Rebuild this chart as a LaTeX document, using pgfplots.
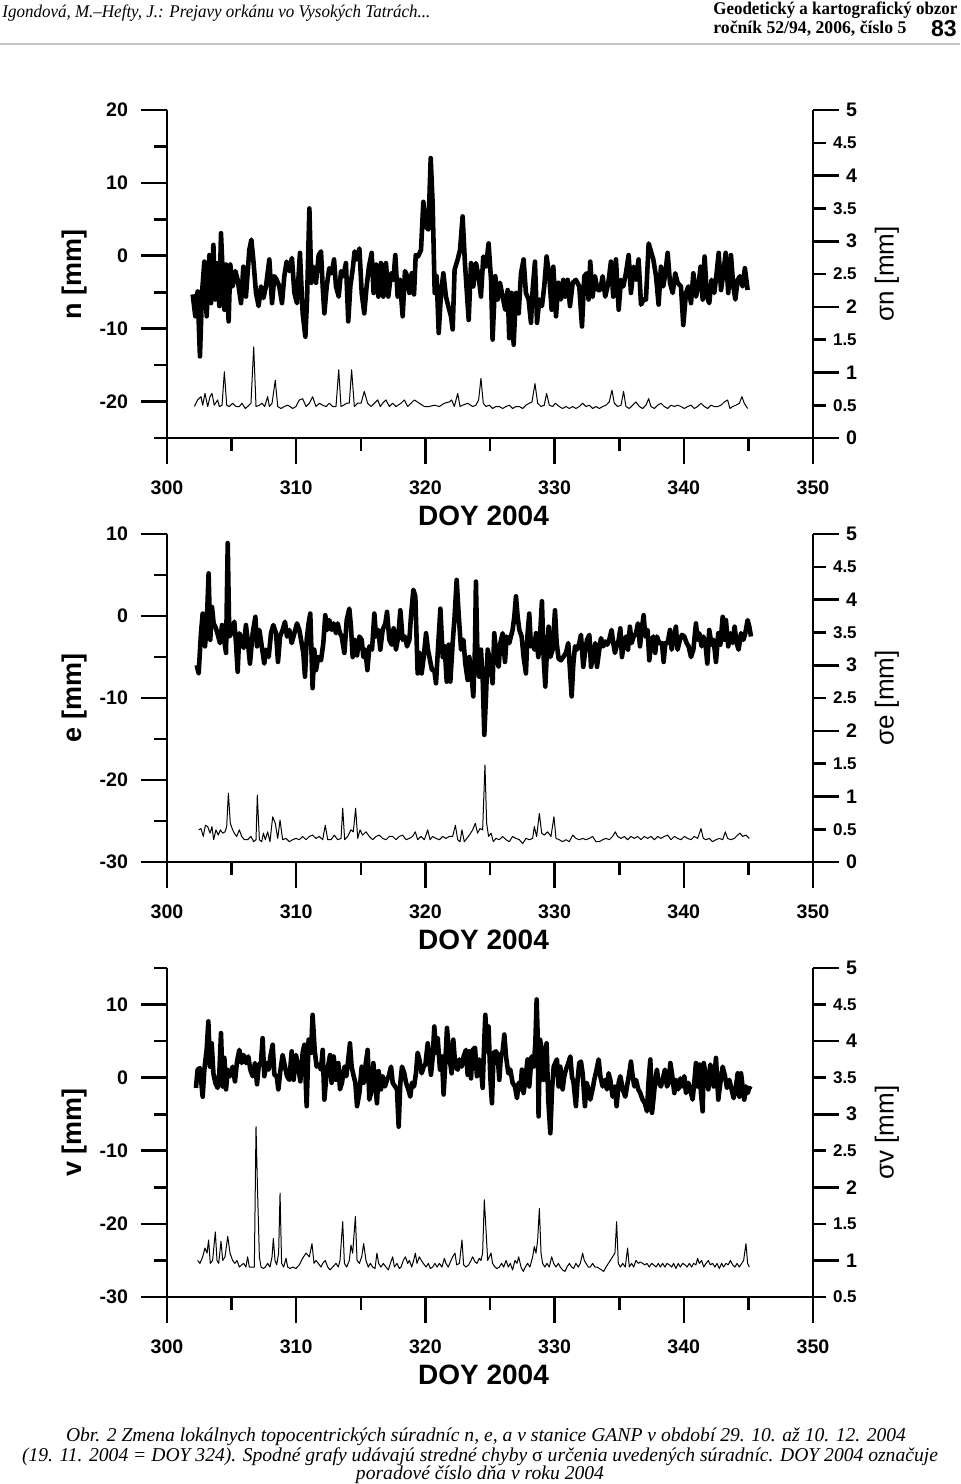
\documentclass[border=0pt]{standalone}
\usepackage{fontspec}
\usepackage{graphicx}
\setmainfont{Liberation Serif}
\newfontfamily\arial{Liberation Sans}
\usepackage{pgfplots}
\pgfplotsset{compat=1.18}
\newcommand\tickfont{\arial\bfseries\fontsize{9.8}{9.8}\selectfont}
\newcommand\halffont{\arial\bfseries\fontsize{8.5}{8.5}\selectfont}
\pgfplotsset{
  base/.style={
    scale only axis, width=323pt, height=164pt, xmin=300, xmax=350,
    clip=false,
    axis line style={line width=1.3pt,-},
    tick style={line width=1.3pt, black},
    major tick length=13pt, minor tick length=6.5pt,
    tick align=outside,
    /pgf/number format/assume math mode=true,
    ticklabel style={font=\tickfont},
  },
  leftax/.style={
    base, axis x line*=bottom, axis y line*=left,
    xtick pos=lower, ytick pos=lower, xticklabel pos=lower, yticklabel pos=lower,
    xtick={300,310,320,330,340,350}, minor xtick={305,315,325,335,345},
    xticklabel style={yshift=-5pt},
    yticklabel style={xshift=-3pt},
    xlabel={DOY 2004},
    every axis x label/.style={at={(axis description cs:0.49,0)}, yshift=-39pt, anchor=center, font=\arial\bfseries\fontsize{14}{14}\selectfont},
    every axis y label/.style={at={(axis description cs:0,0.5)}, xshift=-46pt, rotate=90, anchor=center, font=\arial\bfseries\fontsize{13.5}{13.5}\selectfont},
  },
  rightax/.style={
    base, axis x line=none, axis y line*=right,
    ytick pos=upper, yticklabel pos=upper,
    extra y tick style={major tick length=6.5pt, yticklabel style={font=\halffont}},
    every axis y label/.style={at={(axis description cs:1,0.5)}, xshift=37pt, rotate=90, anchor=center, font=\arial\fontsize{13}{13}\selectfont},
  },
  mainline/.style={black, line width=2.3pt, line join=round},
  sigline/.style={black, line width=0.5pt, line join=round},
}
\begin{document}
\begin{tikzpicture}
\path[use as bounding box] (0,0) rectangle (480pt,-742pt);
% header
\node[anchor=base west, inner sep=0] at (1pt,-8.5pt) {\resizebox{214pt}{6.3pt}{\itshape Igondová, M.–Hefty, J.: Prejavy orkánu vo Vysokých Tatrách...}};
\node[anchor=base west, inner sep=0] at (356.5pt,-7pt) {\resizebox{122pt}{6.3pt}{\bfseries Geodetický a kartografický obzor}};
\node[anchor=base west, inner sep=0] at (356.5pt,-16.5pt) {\resizebox{96.5pt}{6.3pt}{\bfseries ročník 52/94, 2006, číslo 5}};
\node[anchor=base east, inner sep=0] at (478.5pt,-18pt) {\arial\bfseries\fontsize{11.5}{11.5}\selectfont 83};
\draw[gray!45, line width=1pt] (0pt,-22pt) -- (480pt,-22pt);

% ================= panel 1 =================
\begin{axis}[leftax, at={(83.5pt,-219pt)}, anchor=south west,
  ymin=-25, ymax=20, ytick={-20,-10,0,10,20}, minor ytick={-25,-15,-5,5,15},
  ylabel={n [mm]}]
\addplot[mainline] table {
301.99 -5.3
302.19 -8.3
302.37 -4.9
302.55 -13.8
302.71 -5.1
302.89 -0.8
303.07 -8.3
303.28 0.1
303.41 -6.5
303.59 1.5
303.74 -6.0
303.92 -1.0
304.05 -6.9
304.18 3.1
304.31 -2.4
304.44 -7.4
304.57 -1.2
304.77 -9.0
304.90 -1.2
305.08 -4.2
305.29 -2.1
305.47 -3.3
305.73 -6.5
305.91 -1.5
306.11 -5.6
306.37 0.8
306.53 2.2
306.68 -0.5
306.89 -5.1
307.09 -6.9
307.28 -4.2
307.46 -5.8
307.66 -4.2
307.92 -0.5
308.13 -6.5
308.31 -2.8
308.49 -3.3
308.69 -4.2
308.90 -6.5
309.08 -2.8
309.26 -0.8
309.47 -2.1
309.67 -0.3
309.86 -5.1
310.06 -6.5
310.29 0.4
310.50 -7.9
310.71 -11.1
310.84 -6.0
311.02 6.5
311.17 -3.7
311.33 -1.5
311.53 -3.7
311.74 0.1
311.92 0.6
312.05 -4.2
312.18 -7.9
312.36 -4.2
312.56 -1.7
312.74 -2.4
312.93 -0.5
313.08 -4.2
313.29 -5.6
313.47 -2.1
313.65 -2.8
313.85 -1.0
314.03 -9.0
314.19 -4.2
314.37 -1.9
314.52 0.6
314.68 -0.5
314.89 1.0
315.07 -5.1
315.27 -7.9
315.45 -4.2
315.63 -1.5
315.84 0.4
315.99 -5.1
316.18 -1.2
316.36 -5.6
316.56 -1.0
316.74 -5.6
316.95 -1.0
317.13 -5.6
317.34 -2.4
317.52 -3.3
317.67 0.1
317.85 -5.6
318.03 -3.3
318.24 -8.3
318.42 -2.1
318.60 -2.8
318.76 -5.1
318.94 -2.4
319.12 -5.3
319.25 0.1
319.43 -0.1
319.66 0.8
319.84 7.4
320.05 4.0
320.23 3.6
320.41 13.4
320.56 7.2
320.72 -5.1
320.87 -2.8
321.03 -10.6
321.21 -5.1
321.39 -2.4
321.59 -5.6
321.77 -6.9
321.98 -8.3
322.11 -10.1
322.26 -1.9
322.50 -0.5
322.68 0.8
322.88 5.4
323.06 -1.0
323.35 -8.8
323.53 -1.0
323.71 -4.2
323.91 -1.0
324.12 -2.8
324.30 -5.6
324.48 -0.1
324.69 -1.5
324.89 1.7
325.08 -3.3
325.20 -11.5
325.41 -2.8
325.59 -6.0
325.77 -3.7
325.98 -5.6
326.18 -7.4
326.37 -4.7
326.49 -11.3
326.67 -5.1
326.83 -12.2
327.01 -5.1
327.22 -7.9
327.40 -2.4
327.60 -0.5
327.78 -5.1
327.99 -6.0
328.17 -9.2
328.30 -4.7
328.48 -0.8
328.64 -9.2
328.82 -6.0
329.02 -6.9
329.20 -4.2
329.38 -0.1
329.59 -2.8
329.77 -7.4
329.90 -1.5
330.11 -8.3
330.29 -3.7
330.49 -6.0
330.67 -3.3
330.83 -5.6
331.01 -3.3
331.19 -6.9
331.40 -3.7
331.65 -3.3
331.91 -4.2
332.12 -9.7
332.30 -2.8
332.48 -2.4
332.63 -6.0
332.76 -0.8
332.94 -5.6
333.12 -2.8
333.33 -4.7
333.54 -4.7
333.72 -2.8
333.92 -5.6
334.16 -3.7
334.36 -0.8
334.54 -5.6
334.75 -0.5
334.96 -7.4
335.14 -3.3
335.32 -4.2
335.52 -2.4
335.73 0.1
335.91 -5.1
336.12 -1.5
336.30 -3.3
336.50 -0.5
336.69 -6.7
336.89 -6.0
337.07 -6.0
337.28 1.7
337.46 0.6
337.64 -0.5
337.85 -2.8
338.05 -6.7
338.23 -1.5
338.41 -4.2
338.57 -2.4
338.75 0.4
338.93 -3.7
339.14 -5.1
339.34 -2.4
339.52 -3.7
339.78 -4.2
339.96 -9.5
340.17 -5.1
340.35 -4.2
340.56 -6.5
340.74 -2.4
340.94 -5.6
341.12 -4.2
341.30 -1.5
341.46 -6.0
341.61 -0.1
341.79 -5.6
341.97 -6.5
342.15 -3.3
342.36 -5.1
342.54 -2.4
342.70 0.4
342.88 -4.7
343.06 -2.4
343.24 0.4
343.44 -5.1
343.65 0.1
343.83 -4.2
343.99 -6.0
344.17 -3.3
344.35 -2.8
344.55 -4.2
344.73 -1.7
344.94 -4.7
};
\end{axis}
\begin{axis}[rightax, at={(83.5pt,-219pt)}, anchor=south west,
  ymin=0, ymax=5, ytick={0,1,2,3,4,5}, extra y ticks={0.5,1.5,2.5,3.5,4.5},
  ylabel={σn [mm]}]
\addplot[sigline] table {
302.12 0.48
302.37 0.58
302.63 0.63
302.76 0.50
302.94 0.68
303.15 0.48
303.33 0.63
303.48 0.68
303.66 0.50
303.92 0.58
304.05 0.48
304.26 0.50
304.44 1.01
304.62 0.50
304.82 0.48
305.08 0.53
305.34 0.48
305.60 0.48
305.80 0.53
306.06 0.45
306.24 0.48
306.50 0.53
306.71 1.39
306.89 0.48
307.15 0.50
307.35 0.53
307.56 0.48
307.79 0.63
307.92 0.48
308.13 0.53
308.38 0.88
308.57 0.48
308.82 0.45
309.08 0.48
309.34 0.50
309.52 0.48
309.73 0.45
309.98 0.48
310.24 0.58
310.50 0.60
310.76 0.48
311.02 0.53
311.27 0.63
311.53 0.48
311.79 0.53
312.05 0.50
312.31 0.48
312.56 0.53
312.82 0.48
313.08 0.48
313.29 1.04
313.47 0.48
313.67 0.50
313.91 0.53
314.11 0.53
314.29 1.04
314.50 0.48
314.76 0.53
315.02 0.53
315.27 0.71
315.53 0.53
315.79 0.48
316.05 0.53
316.31 0.58
316.51 0.48
316.69 0.53
316.95 0.58
317.21 0.48
317.47 0.53
317.72 0.48
318.11 0.53
318.37 0.58
318.63 0.48
318.89 0.53
319.14 0.58
319.53 0.53
319.92 0.48
320.30 0.48
320.69 0.50
321.08 0.48
321.47 0.53
321.85 0.55
322.03 0.58
322.24 0.48
322.50 0.68
322.68 0.48
322.88 0.50
323.27 0.53
323.66 0.48
323.91 0.50
324.12 0.58
324.30 0.91
324.48 0.53
324.69 0.48
324.95 0.50
325.20 0.45
325.46 0.48
325.72 0.48
325.98 0.45
326.24 0.48
326.49 0.50
326.75 0.45
327.01 0.48
327.27 0.48
327.53 0.45
327.78 0.50
328.04 0.53
328.25 0.55
328.48 0.83
328.69 0.53
328.95 0.48
329.20 0.50
329.38 0.68
329.59 0.50
329.85 0.48
330.05 0.53
330.36 0.48
330.62 0.45
330.88 0.48
331.14 0.45
331.40 0.48
331.65 0.45
331.91 0.48
332.17 0.53
332.43 0.48
332.69 0.50
332.94 0.45
333.20 0.48
333.46 0.45
333.72 0.48
333.98 0.50
334.23 0.55
334.44 0.73
334.62 0.53
334.88 0.48
335.14 0.50
335.34 0.71
335.52 0.48
335.78 0.45
336.04 0.50
336.30 0.55
336.56 0.48
336.81 0.45
337.07 0.50
337.28 0.60
337.46 0.48
337.72 0.45
337.98 0.50
338.23 0.53
338.49 0.48
338.75 0.45
339.01 0.50
339.27 0.48
339.52 0.50
339.78 0.48
340.04 0.45
340.30 0.48
340.56 0.50
340.81 0.45
341.07 0.48
341.33 0.53
341.59 0.48
341.85 0.45
342.10 0.50
342.36 0.48
342.62 0.48
342.88 0.50
343.14 0.55
343.39 0.58
343.57 0.45
343.78 0.48
344.04 0.50
344.30 0.53
344.50 0.63
344.68 0.53
344.94 0.45
};
\end{axis}

% ================= panel 2 =================
\begin{axis}[leftax, at={(83.5pt,-431pt)}, anchor=south west,
  ymin=-30, ymax=10, ytick={-30,-20,-10,0,10}, minor ytick={-25,-15,-5,5},
  ylabel={e [mm]}]
\addplot[mainline] table {
302.30 -6.0
302.45 -7.0
302.63 -2.1
302.76 0.3
302.94 -3.7
303.07 -1.3
303.22 5.2
303.35 -2.9
303.48 1.1
303.61 -0.9
303.79 -1.5
303.97 -2.5
304.10 -3.3
304.26 -1.1
304.39 -2.5
304.57 -4.5
304.70 8.9
304.82 -2.5
305.00 -2.1
305.21 -0.7
305.34 -3.3
305.47 -6.8
305.60 -2.1
305.78 -2.9
305.93 -3.9
306.11 -1.1
306.27 -3.3
306.42 -5.8
306.63 -2.1
306.84 -0.1
306.97 -3.7
307.15 -1.7
307.30 -3.3
307.53 -5.8
307.66 -4.1
307.87 -5.0
308.05 -2.1
308.23 -1.1
308.44 -2.1
308.59 -5.6
308.75 -2.5
308.95 -1.7
309.13 -0.7
309.29 -2.5
309.47 -1.7
309.65 -3.3
309.86 -2.1
310.06 -0.9
310.24 -1.7
310.42 -3.3
310.55 -4.5
310.68 -7.4
310.81 -2.9
310.96 -0.9
311.09 0.3
311.27 -8.8
311.40 -4.1
311.53 -6.6
311.71 -5.0
311.92 -5.4
312.10 -3.3
312.25 0.1
312.41 -1.7
312.56 -0.5
312.74 -1.7
312.90 -0.9
313.08 -2.1
313.21 -0.9
313.39 -2.1
313.52 -2.5
313.73 -4.5
313.91 -0.5
314.11 0.9
314.24 -1.3
314.37 -5.0
314.55 -2.9
314.71 -4.8
314.89 -2.5
315.07 -2.9
315.20 -5.0
315.35 -4.1
315.51 -6.6
315.66 -3.7
315.87 -4.1
316.05 0.3
316.18 -2.5
316.36 -1.7
316.51 -4.1
316.69 -1.7
316.90 -0.9
317.03 0.5
317.21 -2.9
317.39 -3.5
317.54 -1.5
317.72 -4.1
317.90 -2.5
318.06 0.7
318.24 -2.9
318.42 -2.5
318.58 -3.7
318.76 -2.9
318.89 0.1
319.07 3.2
319.22 2.4
319.40 -7.0
319.53 -4.5
319.71 -7.0
319.87 -5.0
320.05 -2.1
320.20 -4.1
320.36 -5.4
320.51 -6.6
320.69 -6.6
320.82 -8.2
321.00 -3.3
321.16 0.9
321.34 -5.0
321.49 -3.7
321.65 -8.0
321.80 -3.5
321.93 -8.0
322.11 -3.3
322.26 -0.1
322.42 4.4
322.57 0.3
322.76 -4.1
322.94 -2.9
323.09 -5.8
323.27 -7.8
323.40 -5.0
323.53 -6.6
323.71 -9.8
323.84 -3.7
323.91 4.2
324.04 -5.8
324.17 -7.4
324.30 -4.1
324.43 -7.4
324.56 -14.5
324.69 -9.8
324.82 -4.1
324.95 -5.0
325.08 -6.6
325.20 -8.2
325.33 -2.1
325.51 -5.0
325.67 -6.2
325.80 -3.3
325.98 -2.1
326.16 -5.6
326.29 -2.5
326.49 -3.3
326.62 -2.5
326.75 -1.7
326.88 -0.1
327.01 2.4
327.14 -0.1
327.27 -1.7
327.45 -2.5
327.60 -5.0
327.78 -7.0
327.91 -2.1
328.04 0.3
328.17 -3.7
328.30 -2.9
328.43 -4.1
328.56 -2.1
328.74 -5.0
328.87 -2.5
329.02 1.8
329.15 -5.0
329.28 -8.6
329.41 -4.1
329.54 -1.3
329.67 -5.0
329.85 -4.1
330.03 0.7
330.16 -3.3
330.31 -5.2
330.49 -5.4
330.67 -5.0
330.88 -4.5
331.06 -3.3
331.19 -6.6
331.32 -9.8
331.45 -5.8
331.58 -3.7
331.73 -4.1
331.91 -3.3
332.04 -2.3
332.22 -6.2
332.38 -4.1
332.51 -2.9
332.69 -2.3
332.82 -6.2
333.00 -4.5
333.15 -3.3
333.28 -6.2
333.46 -4.1
333.59 -2.7
333.77 -3.7
333.92 -3.1
334.08 -3.5
334.23 -2.9
334.41 -1.7
334.54 -3.3
334.67 -4.5
334.83 -3.5
334.96 -2.9
335.09 -1.5
335.21 -5.0
335.37 -3.3
335.52 -2.5
335.68 -4.1
335.83 -1.3
335.96 -3.3
336.12 -2.5
336.30 -2.1
336.45 -0.9
336.61 -3.7
336.74 -1.7
336.89 0.1
337.02 -2.5
337.20 -1.7
337.33 -5.4
337.48 -3.3
337.64 -2.5
337.79 -4.5
337.92 -2.5
338.10 -3.3
338.31 -3.3
338.44 -5.6
338.57 -3.3
338.75 -3.3
338.93 -1.7
339.06 -4.1
339.21 -2.9
339.39 -1.3
339.52 -4.1
339.70 -2.9
339.86 -2.3
340.04 -2.5
340.22 -3.3
340.37 -3.7
340.56 -5.0
340.74 -4.1
340.94 -0.9
341.07 -2.9
341.20 -2.1
341.38 -3.7
341.51 -2.5
341.66 -3.1
341.82 -5.8
341.97 -1.7
342.15 -3.5
342.31 -2.9
342.49 -5.6
342.67 -2.1
342.83 -3.5
343.01 -0.1
343.14 -2.9
343.26 -0.5
343.44 -3.7
343.60 -2.1
343.78 -3.3
343.93 -1.3
344.09 -3.3
344.24 -4.1
344.43 -2.1
344.61 -2.9
344.76 -2.1
344.94 -0.5
345.07 -1.3
345.20 -2.5
};
\end{axis}
\begin{axis}[rightax, at={(83.5pt,-431pt)}, anchor=south west,
  ymin=0, ymax=5, ytick={0,1,2,3,4,5}, extra y ticks={0.5,1.5,2.5,3.5,4.5},
  ylabel={σe [mm]}]
\addplot[sigline] table {
302.45 0.49
302.63 0.51
302.81 0.39
302.97 0.56
303.15 0.54
303.33 0.44
303.48 0.54
303.61 0.34
303.79 0.49
303.97 0.41
304.13 0.49
304.31 0.44
304.49 0.46
304.62 0.54
304.75 1.05
304.90 0.59
305.08 0.49
305.21 0.44
305.39 0.39
305.60 0.49
305.78 0.39
305.99 0.34
306.24 0.34
306.50 0.39
306.71 0.31
306.89 0.34
306.99 1.02
307.15 0.34
307.33 0.31
307.46 0.44
307.61 0.34
307.79 0.46
307.97 0.31
308.18 0.69
308.38 0.59
308.57 0.36
308.75 0.64
308.95 0.34
309.21 0.36
309.47 0.31
309.73 0.34
309.98 0.36
310.24 0.34
310.50 0.39
310.76 0.34
311.02 0.39
311.27 0.41
311.53 0.36
311.79 0.39
312.05 0.34
312.25 0.56
312.44 0.34
312.69 0.34
312.95 0.41
313.21 0.34
313.47 0.36
313.60 0.82
313.75 0.34
313.98 0.39
314.24 0.49
314.42 0.46
314.60 0.82
314.76 0.36
314.94 0.49
315.14 0.41
315.40 0.46
315.66 0.39
315.92 0.34
316.18 0.39
316.43 0.41
316.69 0.36
316.95 0.34
317.21 0.39
317.47 0.39
317.72 0.34
317.98 0.39
318.24 0.41
318.50 0.34
318.76 0.36
319.01 0.39
319.22 0.46
319.40 0.34
319.66 0.39
319.92 0.34
320.18 0.49
320.36 0.34
320.56 0.39
320.82 0.36
321.08 0.34
321.34 0.39
321.59 0.36
321.85 0.39
322.11 0.39
322.32 0.56
322.50 0.34
322.68 0.31
322.83 0.49
323.01 0.31
323.40 0.41
323.66 0.49
323.86 0.59
324.04 0.44
324.22 0.51
324.43 0.49
324.61 1.48
324.74 0.59
324.89 0.39
325.08 0.44
325.26 0.31
325.46 0.36
325.72 0.34
325.98 0.39
326.24 0.34
326.49 0.31
326.75 0.39
327.01 0.36
327.27 0.34
327.53 0.28
327.78 0.36
328.04 0.34
328.30 0.36
328.43 0.54
328.61 0.39
328.82 0.74
329.00 0.44
329.20 0.41
329.46 0.46
329.72 0.39
329.95 0.69
330.11 0.36
330.36 0.34
330.62 0.31
330.88 0.34
331.14 0.31
331.40 0.41
331.65 0.36
331.91 0.34
332.17 0.36
332.43 0.34
332.69 0.36
332.94 0.39
333.20 0.31
333.46 0.31
333.72 0.34
333.98 0.36
334.23 0.34
334.49 0.39
334.70 0.46
334.88 0.39
335.14 0.36
335.40 0.39
335.65 0.34
335.91 0.39
336.17 0.36
336.43 0.39
336.69 0.34
336.94 0.39
337.20 0.36
337.46 0.39
337.72 0.34
337.98 0.39
338.23 0.36
338.49 0.39
338.75 0.41
339.01 0.34
339.27 0.39
339.52 0.36
339.78 0.34
340.04 0.39
340.30 0.36
340.56 0.34
340.81 0.39
341.07 0.36
341.33 0.51
341.51 0.36
341.72 0.34
341.97 0.36
342.23 0.31
342.49 0.34
342.75 0.36
343.01 0.34
343.21 0.46
343.39 0.36
343.65 0.34
343.91 0.36
344.17 0.41
344.35 0.44
344.55 0.39
344.81 0.41
345.07 0.36
};
\end{axis}

% ================= panel 3 =================
\begin{axis}[leftax, at={(83.5pt,-648.5pt)}, anchor=south west, height=164.5pt,
  ymin=-30, ymax=15, ytick={-30,-20,-10,0,10}, minor ytick={-25,-15,-5,5,15},
  ylabel={v [mm]}]
\addplot[mainline] table {
302.24 -1.4
302.37 1.1
302.55 1.3
302.76 -2.6
302.89 1.1
303.07 3.8
303.20 7.7
303.33 1.5
303.46 4.7
303.59 0.6
303.74 -0.7
303.92 -1.4
304.05 0.6
304.18 6.1
304.31 -1.2
304.44 2.7
304.57 -1.6
304.70 1.1
304.88 0.2
305.08 1.5
305.26 -0.5
305.42 2.2
305.60 3.8
305.78 2.0
305.93 3.1
306.11 2.0
306.29 2.9
306.45 1.1
306.63 0.2
306.81 2.0
306.97 -0.9
307.09 1.5
307.28 2.2
307.40 5.4
307.53 0.2
307.71 2.0
307.87 1.1
308.00 2.9
308.18 4.5
308.31 0.4
308.49 0.2
308.62 -1.6
308.77 0.9
308.95 3.1
309.13 1.5
309.29 0.2
309.47 -0.3
309.65 3.6
309.80 -0.3
309.98 3.1
310.16 1.5
310.32 -0.5
310.50 3.4
310.63 4.5
310.81 -3.9
310.96 5.2
311.15 3.4
311.27 8.6
311.43 3.8
311.58 1.5
311.74 1.8
311.92 1.1
312.05 3.8
312.18 -3.0
312.31 -0.3
312.46 1.5
312.62 3.1
312.74 -0.7
312.90 2.9
313.08 -0.3
313.26 2.0
313.39 -1.6
313.54 -0.7
313.73 1.5
313.88 0.2
314.03 2.5
314.16 4.7
314.29 1.5
314.45 0.2
314.58 -0.7
314.71 -3.9
314.89 -2.1
315.07 1.5
315.22 -0.7
315.35 1.5
315.53 3.8
315.66 -3.0
315.79 -2.1
315.97 2.0
316.10 -0.3
316.25 -3.5
316.38 0.9
316.56 -1.6
316.69 0.2
316.87 -1.2
317.03 -0.3
317.16 0.2
317.34 1.5
317.47 -0.7
317.65 -1.2
317.80 -1.6
317.93 -6.7
318.06 -0.7
318.19 1.5
318.37 0.6
318.50 -0.7
318.68 -1.6
318.83 -2.6
318.96 -0.7
319.12 -1.2
319.27 0.6
319.40 3.4
319.53 2.5
319.71 0.6
319.87 1.5
320.00 1.8
320.18 4.7
320.30 2.5
320.43 0.4
320.56 2.7
320.69 7.0
320.82 3.4
320.95 5.4
321.13 1.1
321.28 2.9
321.41 -2.3
321.54 2.0
321.67 6.8
321.85 2.9
322.03 0.6
322.16 5.2
322.32 1.5
322.50 1.1
322.63 2.5
322.81 1.5
322.96 2.9
323.14 3.8
323.27 0.4
323.40 3.6
323.53 -0.1
323.66 3.8
323.84 4.1
323.99 0.2
324.17 2.5
324.30 1.3
324.43 -1.4
324.56 5.2
324.64 8.6
324.77 3.6
324.89 7.0
325.02 0.2
325.15 -3.5
325.28 3.4
325.46 3.6
325.59 3.1
325.72 -0.3
325.85 3.1
325.98 3.6
326.11 5.9
326.24 2.9
326.42 0.6
326.57 1.1
326.75 -0.7
326.93 -1.2
327.09 -2.8
327.22 -0.7
327.35 -1.6
327.47 1.1
327.60 -2.1
327.73 -0.3
327.91 2.5
328.04 -1.2
328.22 2.9
328.38 1.5
328.51 4.7
328.61 10.7
328.69 5.7
328.76 -5.3
328.87 5.2
329.02 3.8
329.15 -0.3
329.25 2.5
329.38 4.7
329.51 -3.0
329.67 -7.6
329.80 -1.6
329.93 1.5
330.05 2.0
330.18 2.5
330.31 -1.2
330.44 1.5
330.62 -1.6
330.75 0.2
330.88 1.1
331.06 2.0
331.22 2.9
331.34 0.2
331.47 -0.7
331.65 -3.9
331.78 -0.3
331.91 2.0
332.04 2.2
332.17 0.6
332.35 -3.9
332.48 -0.7
332.63 -1.6
332.76 -3.0
332.94 -1.6
333.07 -0.3
333.25 1.1
333.41 2.5
333.54 0.2
333.72 -1.2
333.90 -0.3
334.05 -1.6
334.18 0.6
334.31 -0.3
334.49 -2.6
334.67 -1.2
334.80 -3.9
334.96 -0.7
335.09 0.2
335.27 -1.6
335.47 -2.6
335.65 -0.7
335.78 0.6
335.91 2.2
336.04 0.2
336.17 -1.2
336.30 -0.3
336.48 -1.6
336.63 -2.1
336.81 -3.0
336.99 -3.5
337.15 -4.6
337.28 -0.3
337.41 2.5
337.54 -4.8
337.67 -2.6
337.79 -0.3
337.92 1.1
338.05 -0.7
338.23 -1.2
338.36 -0.3
338.54 1.1
338.70 -1.2
338.83 -0.7
338.96 2.0
339.08 0.6
339.27 -2.1
339.39 -0.3
339.57 -1.6
339.73 -0.1
339.86 -1.2
340.04 0.2
340.17 -2.1
340.35 -0.7
340.50 -1.6
340.68 -3.0
340.81 -0.7
340.94 2.0
341.07 -1.2
341.20 1.8
341.33 -2.1
341.46 -4.6
341.54 2.0
341.72 0.2
341.90 -1.6
342.05 1.8
342.18 0.6
342.31 -1.2
342.49 2.7
342.67 -3.0
342.83 -0.7
343.01 1.5
343.19 0.2
343.34 -1.4
343.52 -0.3
343.70 -1.6
343.86 -2.8
344.04 -1.2
344.17 0.6
344.30 -2.6
344.43 0.6
344.55 -1.2
344.68 -3.0
344.81 -1.2
344.94 -2.1
345.07 -1.4
345.20 -1.6
};
\end{axis}
\begin{axis}[rightax, at={(83.5pt,-648.5pt)}, anchor=south west, height=164.5pt,
  ymin=0.5, ymax=5, ytick={1,2,3,4,5}, extra y ticks={0.5,1.5,2.5,3.5,4.5},
  ylabel={σv [mm]}]
\addplot[sigline] table {
302.37 1.00
302.55 0.96
302.76 1.05
302.94 1.17
303.10 1.10
303.22 1.28
303.35 0.96
303.53 1.00
303.74 1.39
303.87 1.00
304.00 0.96
304.18 1.26
304.31 1.00
304.49 1.05
304.70 1.33
304.88 1.10
305.08 1.00
305.26 0.96
305.42 1.00
305.60 0.91
305.78 0.94
305.93 0.96
306.11 0.91
306.24 1.05
306.37 0.91
306.63 0.91
306.76 0.91
306.89 2.83
307.02 1.87
307.15 1.05
307.28 0.91
307.46 0.89
307.61 0.91
307.79 0.96
307.97 0.91
308.13 1.05
308.23 1.30
308.36 1.00
308.49 0.94
308.64 1.10
308.75 1.92
308.87 0.96
309.03 0.91
309.21 1.03
309.34 0.91
309.52 0.89
309.73 0.91
309.98 0.89
310.24 0.94
310.50 1.03
310.76 1.10
311.02 1.05
311.22 1.23
311.38 0.96
311.53 1.00
311.71 0.96
311.92 0.91
312.05 0.96
312.25 1.00
312.44 0.91
312.62 0.87
312.82 0.91
313.08 0.96
313.26 0.91
313.39 1.00
313.60 1.53
313.73 0.96
313.91 0.91
314.11 1.00
314.24 1.21
314.37 1.10
314.58 1.60
314.71 1.00
314.89 0.96
315.07 1.05
315.22 1.23
315.40 1.00
315.58 0.91
315.74 0.96
315.92 0.91
316.10 0.89
316.25 1.10
316.38 0.96
316.56 0.91
316.74 0.96
316.95 0.91
317.13 0.87
317.29 0.96
317.47 1.05
317.60 0.91
317.80 0.96
317.98 0.89
318.11 0.91
318.29 1.00
318.45 1.05
318.63 0.96
318.76 1.00
318.94 0.91
319.09 1.00
319.22 1.10
319.35 0.96
319.53 1.05
319.69 1.00
319.84 0.96
320.05 0.91
320.23 0.96
320.38 0.89
320.56 0.91
320.74 0.96
320.90 0.91
321.08 0.96
321.28 0.91
321.47 1.03
321.59 0.96
321.77 0.91
321.93 0.98
322.11 1.05
322.29 1.10
322.42 0.94
322.63 0.96
322.83 1.28
322.96 0.94
323.14 0.91
323.35 0.94
323.53 1.00
323.66 1.05
323.84 0.98
323.99 0.96
324.17 1.03
324.30 1.00
324.43 1.10
324.56 1.83
324.69 1.42
324.82 1.00
324.95 1.05
325.08 1.10
325.20 0.96
325.38 0.91
325.54 0.89
325.72 0.91
325.90 0.96
326.06 0.91
326.24 1.00
326.42 0.91
326.57 0.96
326.75 0.87
326.93 1.00
327.09 0.96
327.22 1.05
327.40 0.91
327.58 0.85
327.73 0.91
327.91 0.96
328.09 0.91
328.30 1.05
328.43 1.19
328.56 1.10
328.69 1.28
328.82 1.71
328.95 1.10
329.07 0.96
329.25 0.91
329.41 0.96
329.59 0.91
329.77 1.05
329.93 0.96
330.11 0.91
330.29 0.96
330.44 0.91
330.62 0.87
330.80 0.85
330.96 0.91
331.14 0.96
331.32 0.91
331.47 0.89
331.65 0.96
331.83 0.91
331.99 0.96
332.17 1.10
332.30 1.00
332.43 0.96
332.61 0.91
332.76 0.91
332.94 0.96
333.12 0.91
333.28 0.91
333.46 0.89
333.64 0.87
333.80 0.85
333.98 0.91
334.16 0.96
334.31 1.00
334.49 1.05
334.67 1.10
334.80 1.53
334.93 0.96
335.09 0.91
335.27 0.96
335.47 0.91
335.65 1.17
335.78 0.91
335.96 0.96
336.12 0.91
336.30 1.00
336.48 0.96
336.63 0.98
336.81 0.96
336.99 0.94
337.15 0.96
337.33 0.91
337.51 0.96
337.67 0.94
337.85 0.91
338.03 0.96
338.18 0.91
338.36 0.96
338.54 0.91
338.70 0.96
338.88 0.94
339.06 0.91
339.21 0.96
339.39 0.89
339.57 0.96
339.73 0.91
339.91 0.96
340.09 0.94
340.25 0.91
340.43 0.96
340.61 0.91
340.76 0.96
340.94 0.94
341.07 1.03
341.20 0.96
341.38 1.00
341.54 0.91
341.72 0.96
341.90 1.00
342.05 0.94
342.23 0.96
342.41 0.91
342.57 0.96
342.75 0.89
342.93 0.96
343.08 0.91
343.26 0.96
343.44 0.94
343.60 1.00
343.78 0.94
343.96 0.91
344.12 0.96
344.30 0.91
344.48 0.96
344.63 1.00
344.81 1.23
344.94 0.96
345.07 0.91
};
\end{axis}

% caption
\node[anchor=base, inner sep=0] at (243pt,-720.5pt) {\fontsize{9.8}{10}\selectfont\itshape Obr. 2 Zmena lokálnych topocentrických súradníc n, e, a v stanice GANP v období 29. 10. až 10. 12. 2004};
\node[anchor=base, inner sep=0] at (240pt,-730.6pt) {\fontsize{9.8}{10}\selectfont\itshape (19. 11. 2004 = DOY 324). Spodné grafy udávajú stredné chyby {\upshape σ} určenia uvedených súradníc. DOY 2004 označuje};
\node[anchor=base, inner sep=0] at (240pt,-739.8pt) {\fontsize{9.8}{10}\selectfont\itshape poradové číslo dňa v roku 2004};
\end{tikzpicture}
\end{document}
